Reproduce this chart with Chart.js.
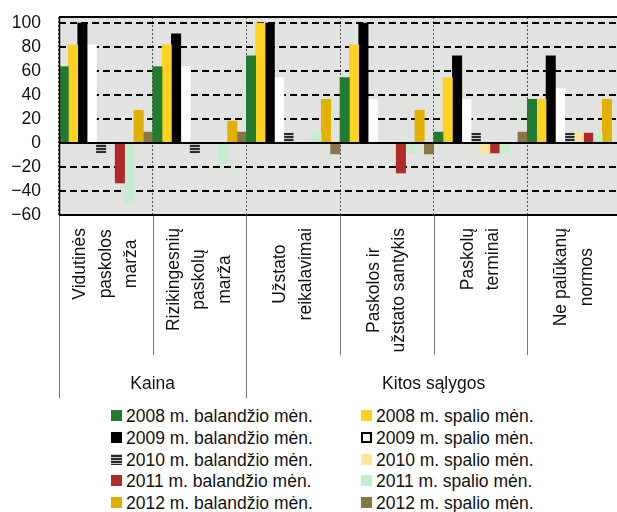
<!DOCTYPE html>
<html>
<head>
<meta charset="utf-8">
<script src="https://cdn.jsdelivr.net/npm/chart.js@4"></script>
<style>
  html, body { margin: 0; padding: 0; background: #fff; width: 617px; height: 512px; overflow: hidden; }
  #wrap { position: absolute; left: 0; top: 0; width: 624px; height: 400px; }
  #legend { position: absolute; left: 0; top: 405px; width: 617px; height: 107px;
            font: 17.5px "Liberation Sans", Arial, sans-serif; color: #111; }
  .item { position: absolute; height: 22px; line-height: 22px; white-space: nowrap; }
  .box { position: absolute; left: 0; top: 5px; width: 11px; height: 11px; box-sizing: border-box; }
  .txt { position: absolute; left: 15px; top: 0; }
</style>
</head>
<body>
<div id="wrap"><canvas id="chart" width="624" height="400"></canvas></div>
<div id="legend"></div>
<script>
// ── Data ──────────────────────────────────────────────────────────────────────
const categories = [
  ["Vidutinės", "paskolos", "marža"],
  ["Rizikingesnių", "paskolų", "marža"],
  ["Užstato", "reikalavimai"],
  ["Paskolos ir", "užstato santykis"],
  ["Paskolų", "terminai"],
  ["Ne palūkanų", "normos"],
];
const groupNames = ["Kaina", "Kitos sąlygos"];
const groupSizes = [2, 4];

const seriesLabels = [
  "2008 m. balandžio mėn.", "2008 m. spalio mėn.",
  "2009 m. balandžio mėn.", "2009 m. spalio mėn.",
  "2010 m. balandžio mėn.", "2010 m. spalio mėn.",
  "2011 m. balandžio mėn.", "2011 m. spalio mėn.",
  "2012 m. balandžio mėn.", "2012 m. spalio mėn.",
];
const apr2008 = [63.6, 63.6, 72.7, 54.5, 9.1, 36.4];
const oct2008 = [81.8, 81.8, 100, 81.8, 54.5, 36.4];
const apr2009 = [100, 90.9, 100, 100, 72.7, 72.7];
const oct2009 = [81.8, 63.6, 54.5, 36.4, 36.4, 45.5];
const apr2010 = [-8.3, -8.3, 8.3, 0, 8.3, 8.3];
const oct2010 = [0, 0, 0, 0, -8.3, 8.3];
const apr2011 = [-33.3, 0, 0, -25, -8.3, 8.3];
const oct2011 = [-50, -16.7, 8.3, -8.3, -8.3, 8.3];
const apr2012 = [27.3, 18.2, 36.4, 27.3, 0, 36.4];
const oct2012 = [9.1, 9.1, -9.1, -9.1, 9.1, 0];
const seriesValues = [apr2008, oct2008, apr2009, oct2009, apr2010, oct2010, apr2011, oct2011, apr2012, oct2012];

const yMin = -60, yMax = 105, yStep = 20, yLastTick = 100;

const seriesColors = [
  "#237a31", "#ffd21f", "#000000", "#ffffff", "stripes",
  "#ffe699", "#b12a2a", "#c6ecd0", "#e2b100", "#887649",
];

const FONT = '"Liberation Sans", Arial, sans-serif';

// horizontal stripes for the 2010 April series
function stripePattern() {
  const c = document.createElement("canvas");
  c.width = 4; c.height = 3;
  const g = c.getContext("2d");
  g.fillStyle = "#c4c6c4"; g.fillRect(0, 0, 4, 3);
  g.fillStyle = "#2a2a2a"; g.fillRect(0, 1, 4, 2);
  return g.createPattern(c, "repeat");
}

function hline(ctx, x1, x2, y) { ctx.beginPath(); ctx.moveTo(x1, y); ctx.lineTo(x2, y); ctx.stroke(); }
function vline(ctx, x, y1, y2) { ctx.beginPath(); ctx.moveTo(x, y1); ctx.lineTo(x, y2); ctx.stroke(); }

// ── Plot background, frame, zero line and the two-level category axis ────────
const framePlugin = {
  id: "frame",
  beforeDraw(chart) {
    const { ctx, chartArea: a } = chart;
    ctx.save();
    ctx.fillStyle = "#e0e3e0";
    ctx.fillRect(a.left, a.top, a.right - a.left, a.bottom - a.top);
    ctx.restore();
  },
  afterDatasetsDraw(chart) {
    const { ctx, chartArea: a, scales: { x, y } } = chart;
    ctx.save();
    ctx.strokeStyle = "#000";
    ctx.lineWidth = 2;
    hline(ctx, a.left, a.right, Math.round(y.getPixelForValue(0)));
    hline(ctx, a.left, a.right, a.top);
    hline(ctx, a.left, a.right, a.bottom);
    ctx.lineWidth = 1.5;
    vline(ctx, a.left + 0.5, a.top, a.bottom);

    // separators under the plot
    const half = (x.getPixelForValue(1) - x.getPixelForValue(0)) / 2;
    const groupStarts = [0];
    groupSizes.forEach(n => groupStarts.push(groupStarts[groupStarts.length - 1] + n));
    ctx.strokeStyle = "#777";
    ctx.lineWidth = 1;
    for (let i = 0; i <= categories.length; i++) {
      const px = Math.round(x.getPixelForValue(i) - half) + 0.5;
      const isGroup = groupStarts.includes(i);
      vline(ctx, px, a.bottom + 1, isGroup ? 398 : 355);
    }

    // rotated category labels, lines centred on each other
    ctx.fillStyle = "#111";
    ctx.font = "17.5px " + FONT;
    ctx.textAlign = "center";
    ctx.textBaseline = "middle";
    categories.forEach((lines, i) => {
      const cx = x.getPixelForValue(i);
      const w = Math.max(...lines.map(t => ctx.measureText(t).width));
      const cy = a.bottom + 13 + w / 2;
      lines.forEach((t, k) => {
        ctx.save();
        ctx.translate(cx + (k - (lines.length - 1) / 2) * 25.5, cy);
        ctx.rotate(-Math.PI / 2);
        ctx.fillText(t, 0, 0);
        ctx.restore();
      });
    });

    // group labels
    groupNames.forEach((name, g) => {
      const x1 = x.getPixelForValue(groupStarts[g]) - half;
      const x2 = x.getPixelForValue(groupStarts[g + 1] - 1) + half;
      ctx.fillText(name, (x1 + x2) / 2, 384);
    });
    ctx.restore();
  },
};

// ── Chart ─────────────────────────────────────────────────────────────────────
const stripes = stripePattern();
const datasets = seriesLabels.map((label, i) => ({
  label,
  data: seriesValues[i],
  backgroundColor: seriesColors[i] === "stripes" ? stripes : seriesColors[i],
  borderWidth: 0,
  barPercentage: 1,
  categoryPercentage: 1,
}));

new Chart(document.getElementById("chart"), {
  type: "bar",
  data: { labels: categories.map(c => c.join(" ")), datasets },
  options: {
    responsive: false,
    animation: false,
    events: [],
    layout: { padding: { top: 17, right: 3, left: 0, bottom: 0 } },
    plugins: { legend: { display: false }, tooltip: { enabled: false } },
    scales: {
      x: {
        ticks: { display: false },
        grid: { color: "#555", lineWidth: 1, drawTicks: false },
        border: { display: false, dash: [2, 2] },
        afterFit: s => { s.height = 400 - 215; },
      },
      y: {
        min: yMin, max: yMax,
        bounds: "data",
        ticks: {
          stepSize: yStep,
          includeBounds: false,
          autoSkip: false,
          padding: 18,
          color: "#111",
          font: { family: FONT, size: 17.5 },
          callback: v => (v < 0 ? "\u2212" + Math.abs(v) : String(v)),
        },
        afterBuildTicks: s => { s.ticks = s.ticks.filter(t => t.value <= yLastTick); },
        afterFit: s => { s.width = 59; s.paddingTop = 0; s.paddingBottom = 0; },
        grid: { color: "#000", lineWidth: 2, drawTicks: false },
        border: { display: false, dash: [7, 4] },
      },
    },
  },
  plugins: [framePlugin],
});

// ── Legend: two columns, April on the left, October on the right ──────────────
const legend = document.getElementById("legend");
seriesLabels.forEach((label, i) => {
  const col = i % 2, row = Math.floor(i / 2);
  const item = document.createElement("div");
  item.className = "item";
  item.style.left = (col ? 361 : 111) + "px";
  item.style.top = (row * 21.75) + "px";
  const box = document.createElement("span");
  box.className = "box";
  const c = seriesColors[i];
  if (c === "stripes") {
    box.style.background = "repeating-linear-gradient(#c4c6c4 0 1px, #2a2a2a 1px 3px)";
  } else if (c === "#ffffff") {
    box.style.background = "#fff";
    box.style.border = "2px solid #000";
  } else {
    box.style.background = c;
  }
  const txt = document.createElement("span");
  txt.className = "txt";
  txt.textContent = label;
  item.appendChild(box);
  item.appendChild(txt);
  legend.appendChild(item);
});
</script>
</body>
</html>
